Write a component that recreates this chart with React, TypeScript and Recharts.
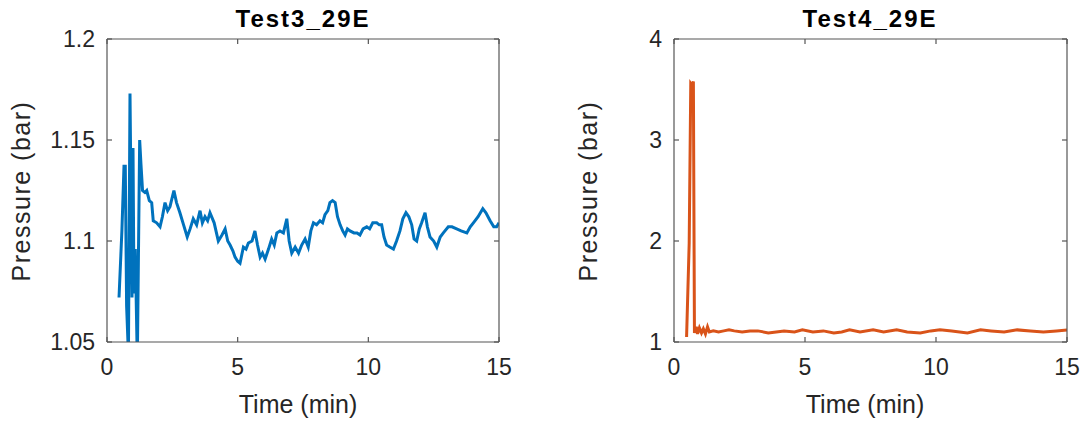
import { LineChart, Line, XAxis, YAxis } from 'recharts'

// Test3_29E
const test3Time = [
  0.46, 0.57, 0.65, 0.7, 0.75, 0.82, 0.88, 0.957, 0.995, 1.033,
  1.083, 1.16, 1.25, 1.3, 1.36, 1.45, 1.52, 1.62, 1.71, 1.77,
  1.9, 2.03, 2.12, 2.22, 2.32, 2.41, 2.56, 2.66, 2.79, 2.93,
  3.07, 3.18, 3.3, 3.43, 3.56, 3.65, 3.75, 3.85, 3.94, 4.1,
  4.26, 4.4, 4.52, 4.62, 4.71, 4.82, 4.9, 5.0, 5.09, 5.22,
  5.32, 5.41, 5.55, 5.66, 5.76, 5.86, 5.95, 6.05, 6.18, 6.3,
  6.4, 6.5, 6.62, 6.75, 6.88, 6.97, 7.07, 7.2, 7.33, 7.45,
  7.58, 7.7, 7.8, 7.9, 8.02, 8.15, 8.25, 8.34, 8.45, 8.53,
  8.63, 8.73, 8.82, 8.92, 9.02, 9.11, 9.2, 9.3, 9.45, 9.57,
  9.68, 9.8, 9.94, 10.05, 10.17, 10.32, 10.42, 10.51, 10.6, 10.7,
  10.82, 10.96, 11.08, 11.21, 11.32, 11.44, 11.55, 11.66, 11.75, 11.85,
  11.95, 12.04, 12.17, 12.26, 12.36, 12.5, 12.62, 12.75, 12.87, 13.06,
  13.2, 13.38, 13.55, 13.77, 13.9, 14.02, 14.2, 14.38, 14.5, 14.66,
  14.8, 14.91, 15.0,
]
const test3Pressure = [
  1.072, 1.105, 1.137, 1.137, 1.068, 1.044, 1.173, 1.072, 1.146, 1.074,
  1.096, 1.04, 1.15, 1.138, 1.125, 1.124, 1.125, 1.12, 1.119, 1.11,
  1.109, 1.107, 1.112, 1.119, 1.115, 1.117, 1.125, 1.119, 1.114, 1.108,
  1.102, 1.106, 1.111, 1.108, 1.115, 1.109, 1.112, 1.11, 1.114, 1.109,
  1.1, 1.103, 1.106, 1.1, 1.098, 1.095, 1.092, 1.09, 1.089, 1.097,
  1.096, 1.099, 1.1, 1.105, 1.098, 1.092, 1.094, 1.091, 1.096, 1.101,
  1.098, 1.104, 1.105, 1.104, 1.111, 1.1, 1.094, 1.097, 1.094, 1.098,
  1.101, 1.097, 1.105, 1.109, 1.108, 1.11, 1.109, 1.113, 1.115, 1.119,
  1.12, 1.119, 1.112, 1.108, 1.105, 1.103, 1.106, 1.105, 1.104, 1.104,
  1.103, 1.106, 1.107, 1.106, 1.109, 1.109, 1.108, 1.108, 1.102, 1.098,
  1.097, 1.096, 1.1, 1.105, 1.111, 1.114, 1.112, 1.108, 1.101, 1.1,
  1.106, 1.109, 1.114, 1.107, 1.102, 1.1, 1.097, 1.102, 1.104, 1.107,
  1.107, 1.106, 1.105, 1.104, 1.107, 1.109, 1.112, 1.116, 1.114, 1.11,
  1.107, 1.107, 1.109,
]

// Test4_29E
const test4Time = [
  0.48, 0.58, 0.64, 0.7, 0.74, 0.78, 0.85, 0.9, 0.97, 1.05,
  1.12, 1.2, 1.28, 1.35, 1.5, 1.7, 1.9, 2.1, 2.3, 2.6,
  2.9, 3.2, 3.6, 3.9, 4.2, 4.6, 4.9, 5.3, 5.7, 6.1,
  6.4, 6.7, 7.1, 7.6, 8.0, 8.5, 8.9, 9.4, 9.8, 10.15,
  10.6, 11.2, 11.7, 12.1, 12.6, 13.1, 13.6, 14.1, 14.6, 15.0,
]
const test4Pressure = [
  1.05, 1.98, 3.56, 3.54, 3.58, 1.09, 1.15, 1.08, 1.14, 1.09,
  1.13, 1.08, 1.15, 1.1, 1.11, 1.1, 1.11, 1.12, 1.11, 1.1,
  1.11, 1.11, 1.09, 1.1, 1.11, 1.1, 1.12, 1.1, 1.11, 1.09,
  1.1, 1.12, 1.1, 1.12, 1.1, 1.12, 1.1, 1.09, 1.11, 1.12,
  1.11, 1.09, 1.12, 1.11, 1.1, 1.12, 1.11, 1.1, 1.11, 1.12,
]

const timeTicks = [0, 5, 10, 15]
const test3Ticks = [1.05, 1.1, 1.15, 1.2]
const test4Ticks = [1, 2, 3, 4]

const zip = (t: number[], p: number[]) => t.map((x, i) => ({ t: x, p: p[i] }))

const FONT = '"Liberation Sans", Arial, sans-serif'
const AXIS = '#555555'
const TEXT = '#262626'
const tickStyle = { fontSize: 23, fill: TEXT, fontFamily: FONT }
const noLabel = () => <g />

type PanelProps = {
  left: number
  width: number
  marginRight: number
  data: { t: number; p: number }[]
  color: string
  domain: [number, number]
  yTicks: number[]
}

function Panel({ left, width, marginRight, data, color, domain, yTicks }: PanelProps) {
  return (
    <div style={{ position: 'absolute', left, top: 0 }}>
      <LineChart width={width} height={427} data={data} margin={{ top: 38, right: marginRight - 1, bottom: 0, left: 0 }}>
        <XAxis
          dataKey="t" type="number" domain={[0, 15]} ticks={timeTicks} allowDataOverflow
          height={85} tickSize={-5} tickMargin={22} tick={tickStyle}
          stroke={AXIS} strokeWidth={1.2} tickLine={{ stroke: AXIS }}
        />
        <XAxis
          xAxisId="top" orientation="top" dataKey="t" type="number" domain={[0, 15]} ticks={timeTicks}
          allowDataOverflow height={1} tickSize={-5} tick={noLabel}
          stroke={AXIS} strokeWidth={1.2} tickLine={{ stroke: AXIS }}
        />
        <YAxis
          type="number" domain={domain} ticks={yTicks} allowDataOverflow
          width={107} tickSize={-5} tickMargin={17} tick={tickStyle}
          stroke={AXIS} strokeWidth={1.2} tickLine={{ stroke: AXIS }}
        />
        <YAxis
          yAxisId="right" orientation="right" type="number" domain={domain} ticks={yTicks}
          allowDataOverflow width={1} tickSize={-5} tick={noLabel}
          stroke={AXIS} strokeWidth={1.2} tickLine={{ stroke: AXIS }}
        />
        <Line dataKey="p" type="linear" stroke={color} strokeWidth={3} dot={false} isAnimationActive={false} />
      </LineChart>
    </div>
  )
}

export default function App() {
  return (
    <div style={{ position: 'absolute', left: 0, top: 0, width: 1087, height: 427, background: '#fff' }}>
      <Panel left={0} width={540} marginRight={41} data={zip(test3Time, test3Pressure)} color="#0072BD" domain={[1.05, 1.2]} yTicks={test3Ticks} />
      <Panel left={567} width={520} marginRight={20} data={zip(test4Time, test4Pressure)} color="#D95319" domain={[1, 4]} yTicks={test4Ticks} />
      <svg width={1087} height={427} style={{ position: 'absolute', left: 0, top: 0, pointerEvents: 'none' }}>
        <g fontFamily={FONT} fill={TEXT}>
          <text x={303} y={27} textAnchor="middle" fontSize={24} fontWeight="bold" fill="#000" letterSpacing={2}>Test3_29E</text>
          <text x={870} y={27} textAnchor="middle" fontSize={24} fontWeight="bold" fill="#000" letterSpacing={2}>Test4_29E</text>
          <text x={298} y={413} textAnchor="middle" fontSize={25}>Time (min)</text>
          <text x={865} y={413} textAnchor="middle" fontSize={25}>Time (min)</text>
          <text transform="translate(30,191) rotate(-90)" textAnchor="middle" fontSize={25} letterSpacing={1.5}>Pressure (bar)</text>
          <text transform="translate(597,191) rotate(-90)" textAnchor="middle" fontSize={25} letterSpacing={1.5}>Pressure (bar)</text>
        </g>
      </svg>
    </div>
  )
}
